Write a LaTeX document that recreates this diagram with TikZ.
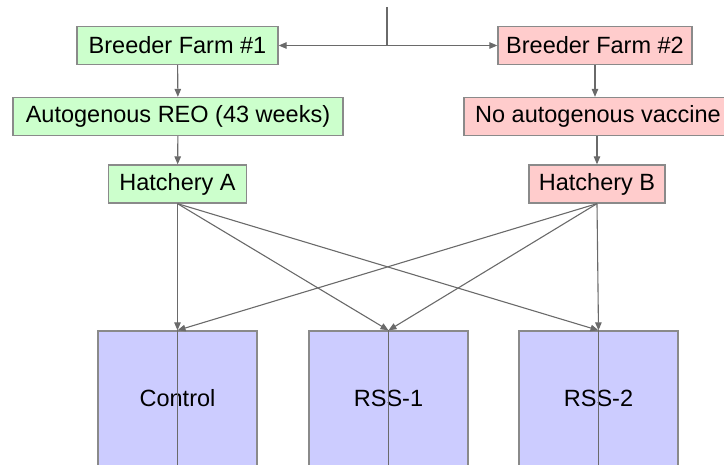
\documentclass[tikz,border=0pt]{standalone}
\usepackage{fontspec}
\setmainfont{Liberation Sans}
\usetikzlibrary{arrows.meta}
\definecolor{lgreen}{HTML}{CCFFCC}
\definecolor{lpink}{HTML}{FFCCCC}
\definecolor{lblue}{HTML}{CCCCFF}
\definecolor{bord}{HTML}{8A8A8A}
\definecolor{conn}{HTML}{6A6A6A}
\begin{document}
\begin{tikzpicture}[x=1pt,y=-1pt,
  box/.style={draw=bord,line width=1.3pt,rectangle,inner sep=0pt,minimum height=38pt,
    font=\fontsize{23.5}{28}\selectfont,text=black},
  gbox/.style={box,fill=lgreen},
  pbox/.style={box,fill=lpink},
  bbox/.style={box,fill=lblue,minimum width=159pt,minimum height=135pt},
  conn/.style={draw=conn,line width=1.1pt},
  arr/.style={conn,-{Triangle[length=8pt,width=6.5pt]}}]
\useasboundingbox (0,0) rectangle (724,465);
\clip (0,0) rectangle (724,465);

\node[gbox,minimum width=201pt] (bf1) at (177.5,45.5) {Breeder Farm \#1};
\node[pbox,minimum width=194pt] (bf2) at (595,45.5) {Breeder Farm \#2};
\node[gbox,minimum width=330pt] (reo) at (178,116.5) {Autogenous REO (43 weeks)};
\node[pbox,minimum width=268pt] (noa) at (598,116.5) {No autogenous vaccine};
\node[gbox,minimum width=138pt] (ha) at (177.5,184) {Hatchery A};
\node[pbox,minimum width=136pt] (hb) at (597,184) {Hatchery B};

\node[bbox] (ctl) at (177.5,398.5) {Control};
\node[bbox] (r1) at (388.5,398.5) {RSS-1};
\node[bbox] (r2) at (598.5,398.5) {RSS-2};

% vertical lines through bottom boxes
\draw[conn] (ctl.north) -- (ctl.south);
\draw[conn] (r1.north) -- (r1.south);
\draw[conn] (r2.north) -- (r2.south);

% top connector
\coordinate (top) at (387,7);
\coordinate (jn) at (387,45.5);
\draw[conn] (top) -- (jn);
\draw[arr] (jn) -- (bf1.east);
\draw[arr] (jn) -- (bf2.west);

\draw[arr] (bf1) -- (reo);
\draw[arr] (reo) -- (ha);
\draw[arr] (bf2.south) -- (bf2.south |- noa.north);
\draw[arr] (noa.south -| hb.north) -- (hb.north);

\draw[arr] (ha.south) -- (ctl.north);
\draw[arr] (ha.south) -- (r1.north);
\draw[arr] (ha.south) -- (r2.north);
\draw[arr] (hb.south) -- (ctl.north);
\draw[arr] (hb.south) -- (r1.north);
\draw[arr] (hb.south) -- (r2.north);
\end{tikzpicture}
\end{document}
